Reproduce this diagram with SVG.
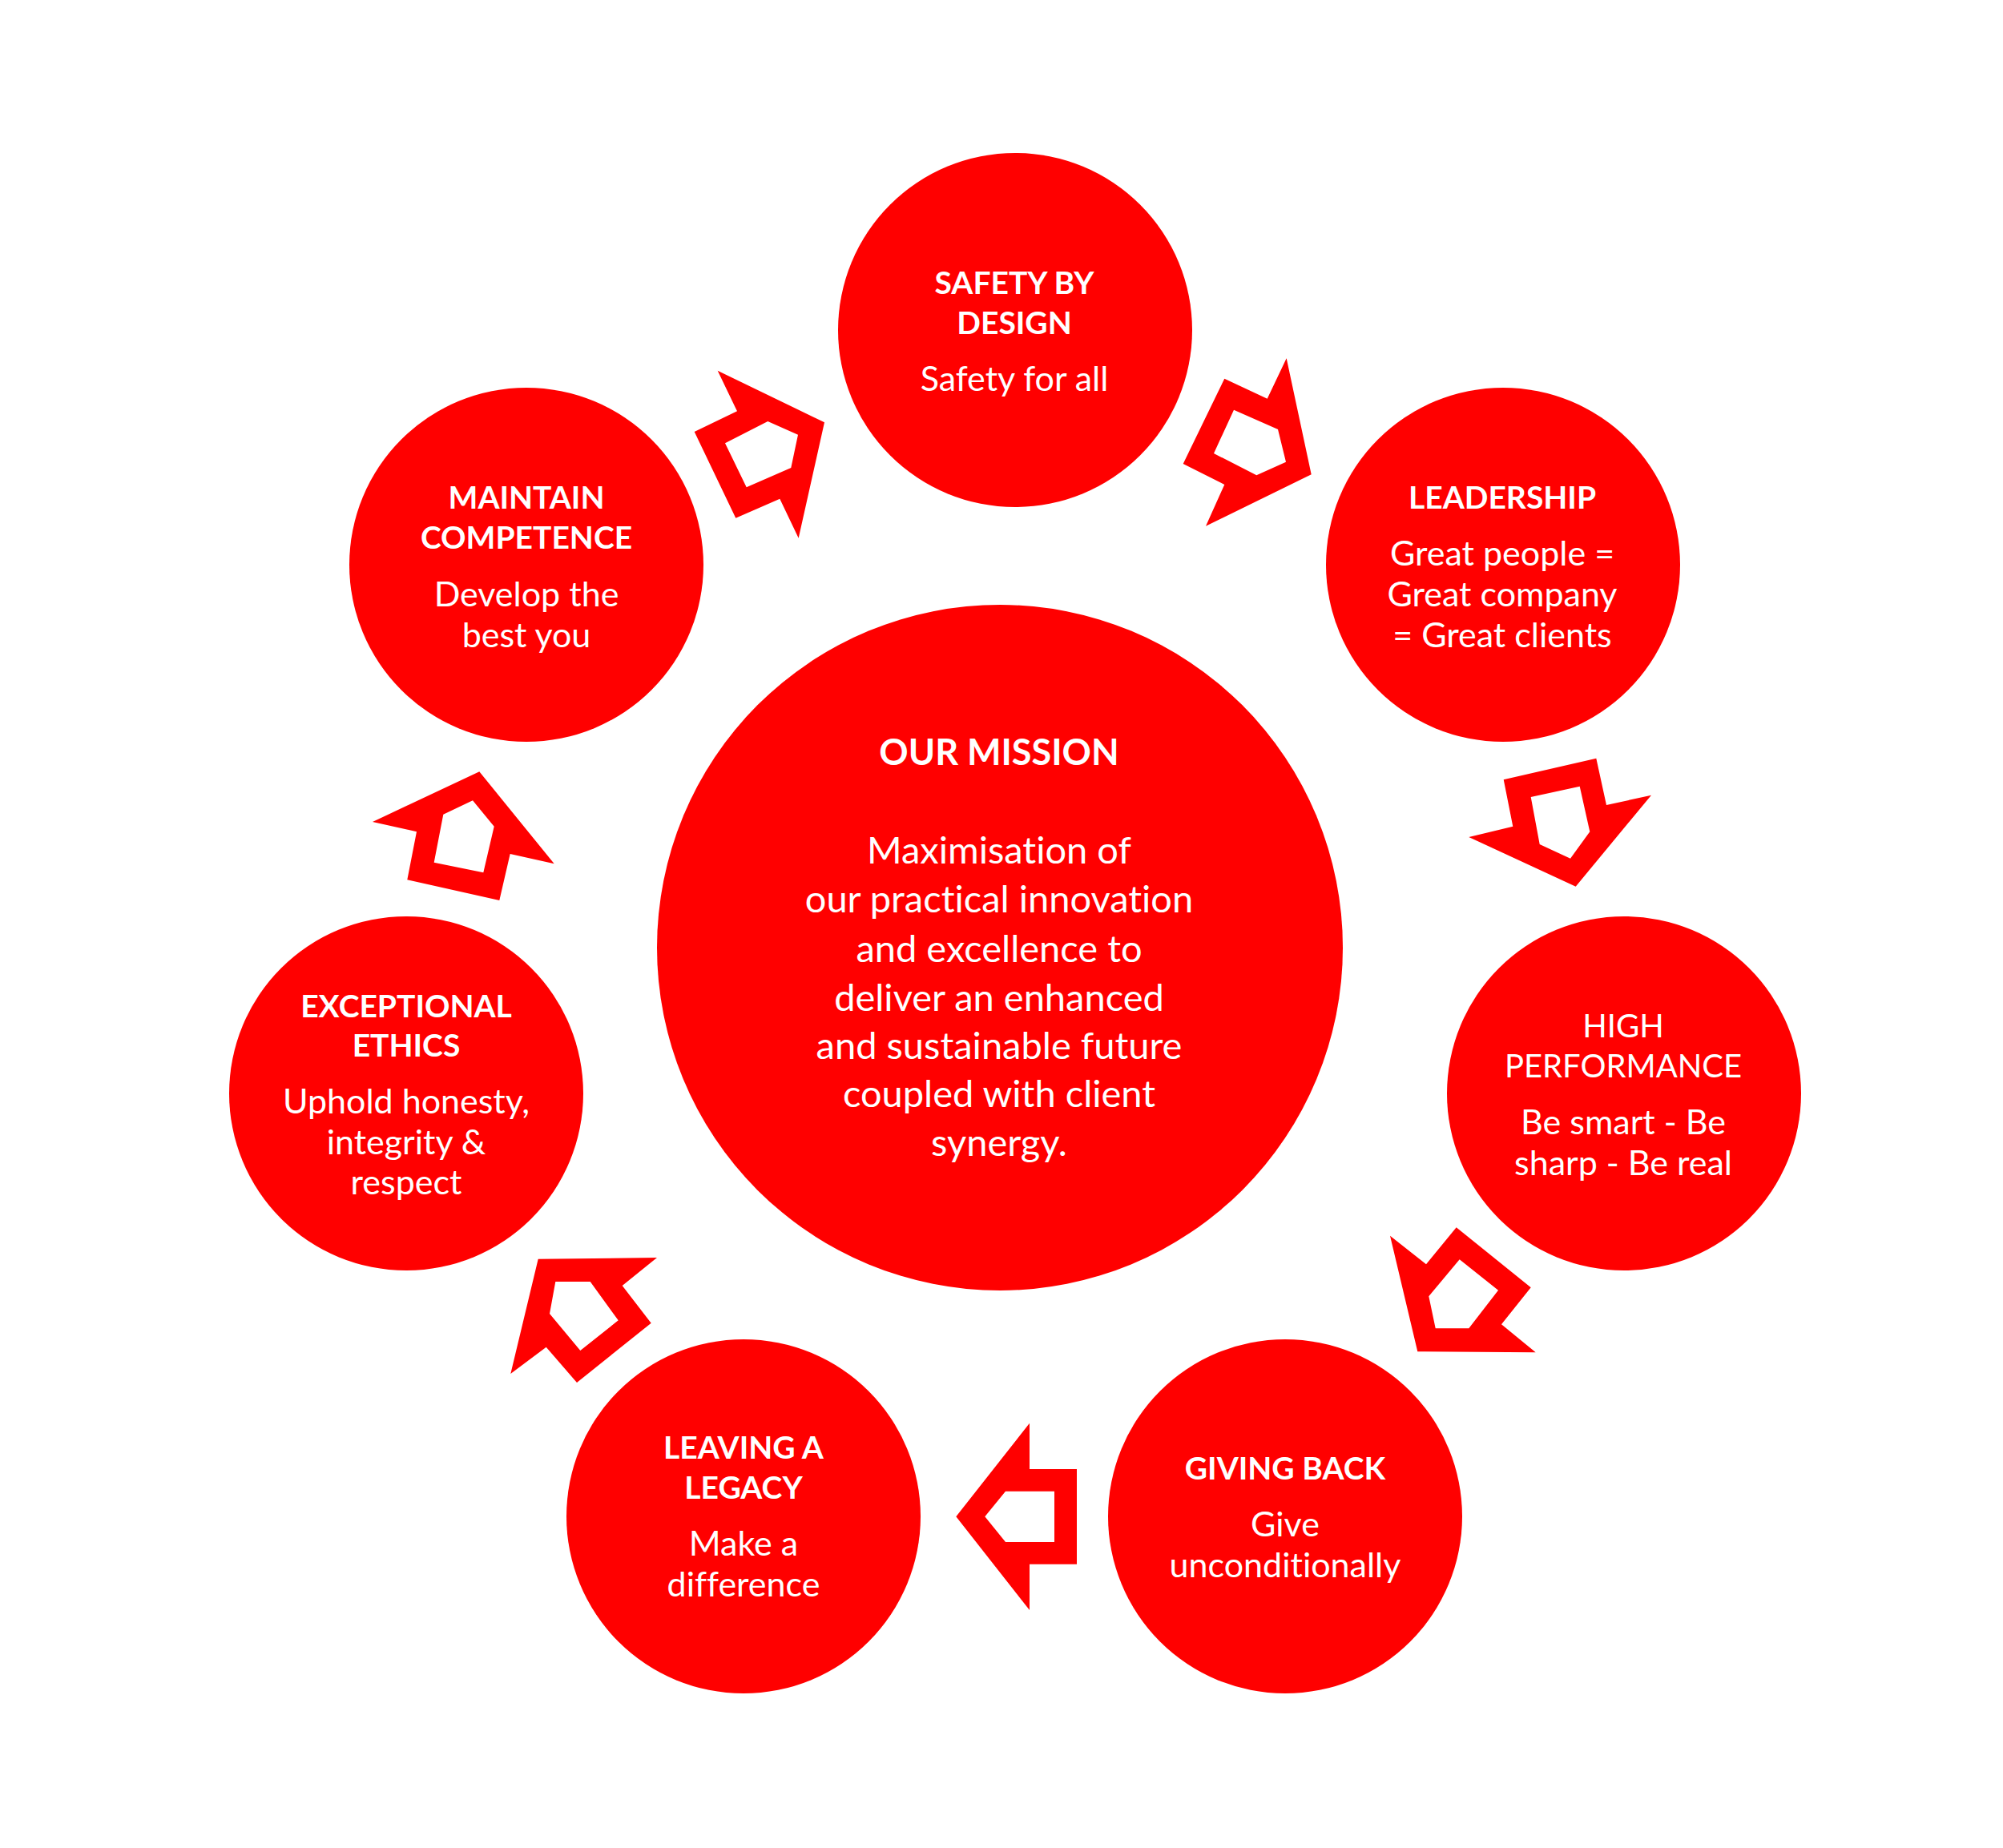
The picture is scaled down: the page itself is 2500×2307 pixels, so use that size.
<svg xmlns="http://www.w3.org/2000/svg" width="2500" height="2307" viewBox="0 0 2500 2307">
<style>
.c{fill:#FF0000}
.a{fill:#FF0000;fill-rule:evenodd}
text{fill:#FFFFFF;font-family:Lato,"Open Sans","Liberation Sans",sans-serif;text-anchor:middle;font-variant-ligatures:none;font-feature-settings:"liga" 0,"dlig" 0}
.h{font-weight:bold;font-size:39px}
.hr{font-size:40px}
.s{font-size:43px}
.mh{font-weight:bold;font-size:45px}
.m{font-size:47px}
</style>
<rect width="2500" height="2307" fill="#FFFFFF"/>
<g id="connectors">
<path class="a" d="M895.7,462.7 L1029,527.3 L996.7,671.7 L973.3,622.7 L918.3,646.7 L866.7,539 L920,513.3 Z M905,553.3 L958.3,526 L996,542.7 L987.3,584 L931.7,608.3 Z"/>
<path class="a" d="M1605.7,447.3 L1636.7,592.3 L1505,656.7 L1528.3,605 L1476.7,579 L1528.3,472.7 L1581.7,497.7 Z M1540,511.7 L1595,536 L1605,576.7 L1568.3,593.3 L1515,566 Z"/>
<path class="a" d="M1876.7,973.3 L1992.3,946.7 L2005,1005 L2061,992.7 L1966.7,1106.7 L1833.3,1045 L1888.3,1031.7 Z M1910.7,995 L1971.7,981.7 L1984.3,1038.3 L1960,1071.7 L1921.7,1054 Z"/>
<path class="a" d="M1735,1542.7 L1780,1578.3 L1817.7,1532.3 L1910.7,1607.3 L1874,1653.3 L1916.7,1688.3 L1769.3,1687.3 Z M1821.7,1572.3 L1870,1610.7 L1833.3,1658.3 L1791.7,1658.3 L1783.3,1618.3 Z"/>
<path class="a" d="M1193.3,1893.3 L1285,1776.7 L1285,1834 L1344,1834 L1344,1952.7 L1285,1952.7 L1285,2010 Z M1229.3,1893.3 L1255,1861.7 L1316,1861.7 L1316,1925 L1255,1925 Z"/>
<path class="a" d="M671.7,1571.7 L820,1570 L776.7,1605 L812.7,1651.7 L720,1726 L681.7,1681.7 L637.3,1715 Z M693.3,1600 L736.7,1600 L771.7,1648.3 L724.3,1686 L686,1640 Z"/>
<path class="a" d="M598.3,963.3 L691.7,1078.3 L636.7,1066 L623.3,1124 L508.3,1098.3 L520,1038.3 L465,1026 Z M590,999.3 L616.7,1031.7 L603.3,1089.3 L541.7,1076.7 L553.3,1016.7 Z"/>
</g>
<g id="mission">
<circle class="c" cx="1248" cy="1183" r="428"/>
<text class="mh" x="1247" y="955">OUR MISSION</text>
<text class="m" x="1247" y="1078">Maximisation of</text>
<text class="m" x="1247" y="1139">our practical innovation</text>
<text class="m" x="1247" y="1201">and excellence to</text>
<text class="m" x="1247" y="1262">deliver an enhanced</text>
<text class="m" x="1247" y="1322">and sustainable future</text>
<text class="m" x="1247" y="1382">coupled with client</text>
<text class="m" x="1247" y="1443">synergy.</text>
</g>
<g id="safety">
<circle class="c" cx="1267" cy="412" r="221"/>
<text class="h" x="1266" y="367">SAFETY BY</text>
<text class="h" x="1266" y="417">DESIGN</text>
<text class="s" x="1266" y="488">Safety for all</text>
</g>
<g id="leadership">
<circle class="c" cx="1876" cy="705" r="221"/>
<text class="h" x="1875" y="635">LEADERSHIP</text>
<text class="s" x="1875" y="706">Great people =</text>
<text class="s" x="1875" y="757">Great company</text>
<text class="s" x="1875" y="808">= Great clients</text>
</g>
<g id="high-performance">
<circle class="c" cx="2027" cy="1365" r="221"/>
<text class="hr" x="2026" y="1295">HIGH</text>
<text class="hr" x="2026" y="1345">PERFORMANCE</text>
<text class="s" x="2026" y="1416">Be smart - Be</text>
<text class="s" x="2026" y="1467">sharp - Be real</text>
</g>
<g id="giving-back">
<circle class="c" cx="1604" cy="1893" r="221"/>
<text class="h" x="1604" y="1847">GIVING BACK</text>
<text class="s" x="1604" y="1918">Give</text>
<text class="s" x="1604" y="1969">unconditionally</text>
</g>
<g id="leaving-a-legacy">
<circle class="c" cx="928" cy="1893" r="221"/>
<text class="h" x="928" y="1821">LEAVING A</text>
<text class="h" x="928" y="1871">LEGACY</text>
<text class="s" x="928" y="1942">Make a</text>
<text class="s" x="928" y="1993">difference</text>
</g>
<g id="exceptional-ethics">
<circle class="c" cx="507" cy="1365" r="221"/>
<text class="h" x="507" y="1270">EXCEPTIONAL</text>
<text class="h" x="507" y="1319">ETHICS</text>
<text class="s" x="507" y="1390">Uphold honesty,</text>
<text class="s" x="507" y="1441">integrity &amp;</text>
<text class="s" x="507" y="1491">respect</text>
</g>
<g id="maintain-competence">
<circle class="c" cx="657" cy="705" r="221"/>
<text class="h" x="657" y="635">MAINTAIN</text>
<text class="h" x="657" y="685">COMPETENCE</text>
<text class="s" x="657" y="757">Develop the</text>
<text class="s" x="657" y="808">best you</text>
</g>
</svg>
